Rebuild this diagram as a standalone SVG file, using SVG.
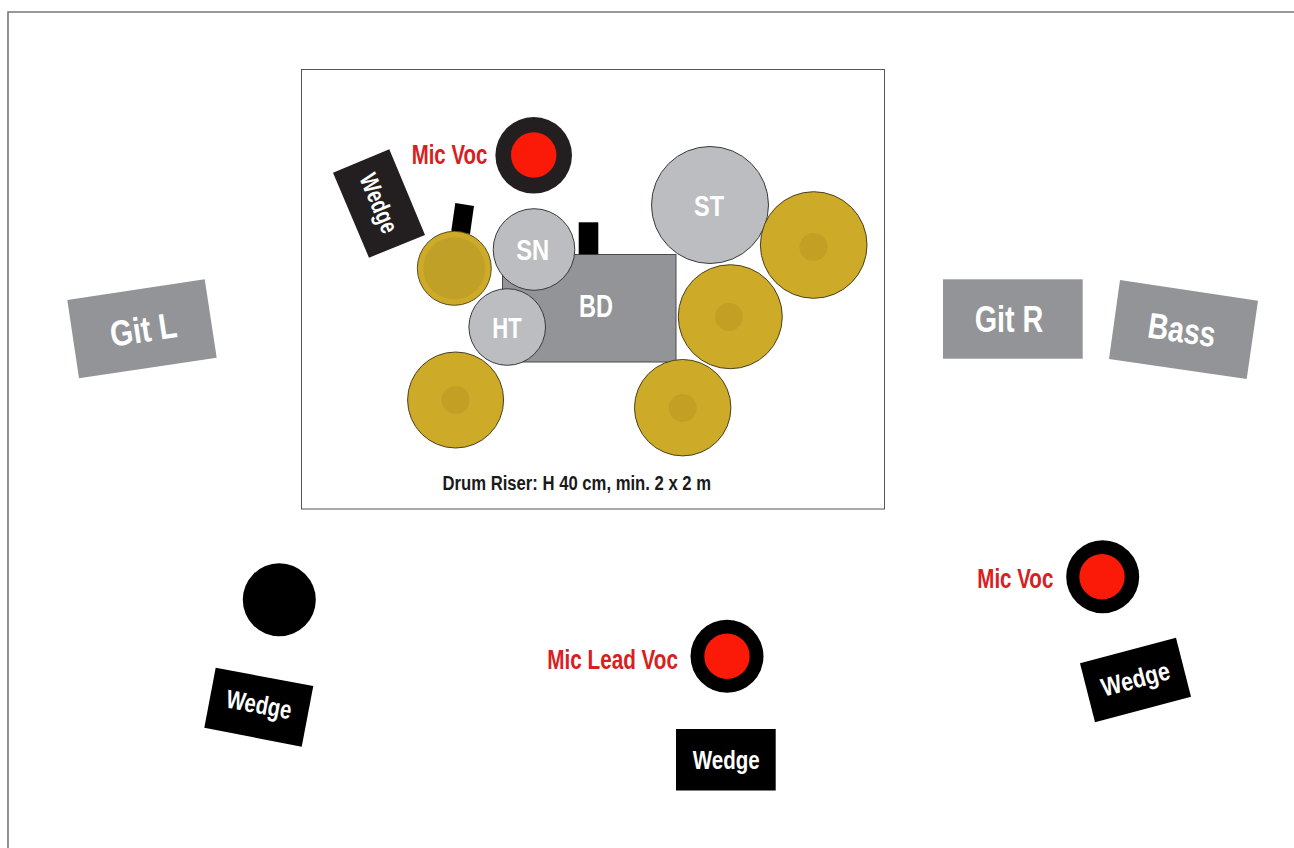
<svg xmlns="http://www.w3.org/2000/svg" width="1294" height="848" viewBox="0 0 1294 848">
<style>
text{font-family:"Liberation Sans",Arial,sans-serif;font-weight:bold;text-anchor:middle}
.w{fill:#fff}.r{fill:#d8201f;font-size:27px}.k{fill:#000}.d{fill:#231f20}
.amp{fill:#929497}.drum{fill:#bbbdc0;stroke:#3a3a3a;stroke-width:1}
.cym{fill:#cdab29;stroke:#4a4020;stroke-width:1}.bell{fill:#c3a024}.red{fill:#fb1a08}
</style>
<rect width="1294" height="848" fill="#fff"/>
<path d="M8 848V12H1294" fill="none" stroke="#777" stroke-width="1.6"/>
<g id="riser">
<rect x="301.5" y="69.5" width="583" height="439.5" fill="#fff" stroke="#555" stroke-width="1"/>
<text x="576.8" y="490" font-size="20" textLength="268.5" lengthAdjust="spacingAndGlyphs" fill="#1a1a1a">Drum Riser: H 40 cm, min. 2 x 2 m</text>
</g>
<g id="bd">
<rect x="502.5" y="254.5" width="173.5" height="107.5" fill="#929497" stroke="#4a4a4a" stroke-width="1"/>
<text x="596" y="317" font-size="31" textLength="34" lengthAdjust="spacingAndGlyphs" class="w">BD</text>
</g>
<g id="stand-left"><polygon class="k" points="455.3,203 474,206 470,234 451.3,230.7"/></g>
<g id="stand-right"><rect class="k" x="578.7" y="222.3" width="19.6" height="32"/></g>
<g id="hihat">
<circle cx="454.3" cy="268.3" r="37" fill="#cdab29" stroke="#5a4d20" stroke-width="1"/>
<circle cx="454.3" cy="268.3" r="31" fill="#c0a026"/>
</g>
<g id="sn">
<circle class="drum" cx="534" cy="249.5" r="40.8"/>
<text x="532.7" y="259.5" font-size="30" textLength="33" lengthAdjust="spacingAndGlyphs" class="w">SN</text>
</g>
<g id="ht">
<circle class="drum" cx="507.2" cy="327" r="38.3"/>
<text x="507" y="337.5" font-size="30" textLength="29.5" lengthAdjust="spacingAndGlyphs" class="w">HT</text>
</g>
<g id="st">
<circle class="drum" cx="710" cy="205" r="58.5"/>
<text x="709" y="215.5" font-size="30" textLength="30" lengthAdjust="spacingAndGlyphs" class="w">ST</text>
</g>
<g id="cymbal-1"><circle class="cym" cx="813.7" cy="245" r="53.3"/><circle class="bell" cx="813.5" cy="247" r="14"/></g>
<g id="cymbal-2"><circle class="cym" cx="730.3" cy="316.7" r="52"/><circle class="bell" cx="729" cy="317" r="14"/></g>
<g id="cymbal-3"><circle class="cym" cx="682.7" cy="407.7" r="48.2"/><circle class="bell" cx="682.7" cy="408" r="14"/></g>
<g id="cymbal-4"><circle class="cym" cx="455.6" cy="400" r="48"/><circle class="bell" cx="455.6" cy="400" r="14"/></g>
<g id="mic-drums">
<circle class="d" cx="533.7" cy="155.3" r="38.3"/><circle class="red" cx="533.7" cy="155" r="22.7"/>
<text class="r" x="449.5" y="163.5" textLength="75.6" lengthAdjust="spacingAndGlyphs">Mic Voc</text>
</g>
<g id="wedge-drums">
<polygon class="d" points="333,172.7 389.3,149.3 425,235 369,257.7"/>
<text class="w" transform="translate(378.5 203.5) rotate(67)" y="8" font-size="25" textLength="62" lengthAdjust="spacingAndGlyphs">Wedge</text>
</g>
<g id="git-l">
<polygon class="amp" points="67.3,300 204.7,279.3 216.7,357.7 79,378.3"/>
<text class="w" transform="translate(143.3 329) rotate(-8.5)" y="13" font-size="36" textLength="67" lengthAdjust="spacingAndGlyphs">Git L</text>
</g>
<g id="git-r">
<rect class="amp" x="943" y="279.3" width="139.7" height="79.4"/>
<text class="w" x="1009" y="331.5" font-size="36" textLength="68.7" lengthAdjust="spacingAndGlyphs">Git R</text>
</g>
<g id="bass">
<polygon class="amp" points="1120,280 1258,300.7 1246.7,379 1109,359"/>
<text class="w" transform="translate(1182 329.3) rotate(8.5)" y="13" font-size="36" textLength="68" lengthAdjust="spacingAndGlyphs">Bass</text>
</g>
<g id="mic-left"><circle class="k" cx="279.3" cy="599.7" r="36.5"/></g>
<g id="wedge-left">
<polygon class="k" points="215.7,667.7 313.3,686 301.7,746.7 204.3,727.7"/>
<text class="w" transform="translate(259 704.5) rotate(10.6)" y="9" font-size="26" textLength="66" lengthAdjust="spacingAndGlyphs">Wedge</text>
</g>
<g id="mic-lead">
<circle class="k" cx="727" cy="656.3" r="36.5"/><circle class="red" cx="727" cy="656.3" r="22.7"/>
<text class="r" x="612.6" y="668.5" textLength="130.7" lengthAdjust="spacingAndGlyphs">Mic Lead Voc</text>
</g>
<g id="wedge-lead">
<rect class="k" x="676" y="729" width="99.7" height="61.5"/>
<text class="w" x="726.3" y="769" font-size="26" textLength="67" lengthAdjust="spacingAndGlyphs">Wedge</text>
</g>
<g id="mic-right">
<circle class="k" cx="1102.7" cy="576.7" r="36.5"/><circle class="red" cx="1102" cy="576.7" r="22.7"/>
<text class="r" x="1015.3" y="587.5" textLength="76" lengthAdjust="spacingAndGlyphs">Mic Voc</text>
</g>
<g id="wedge-right">
<polygon class="k" points="1080,663.3 1176,637.7 1191,696.7 1095,722.3"/>
<text class="w" transform="translate(1135.7 680) rotate(-15)" y="8" font-size="26" textLength="70" lengthAdjust="spacingAndGlyphs">Wedge</text>
</g>
</svg>
